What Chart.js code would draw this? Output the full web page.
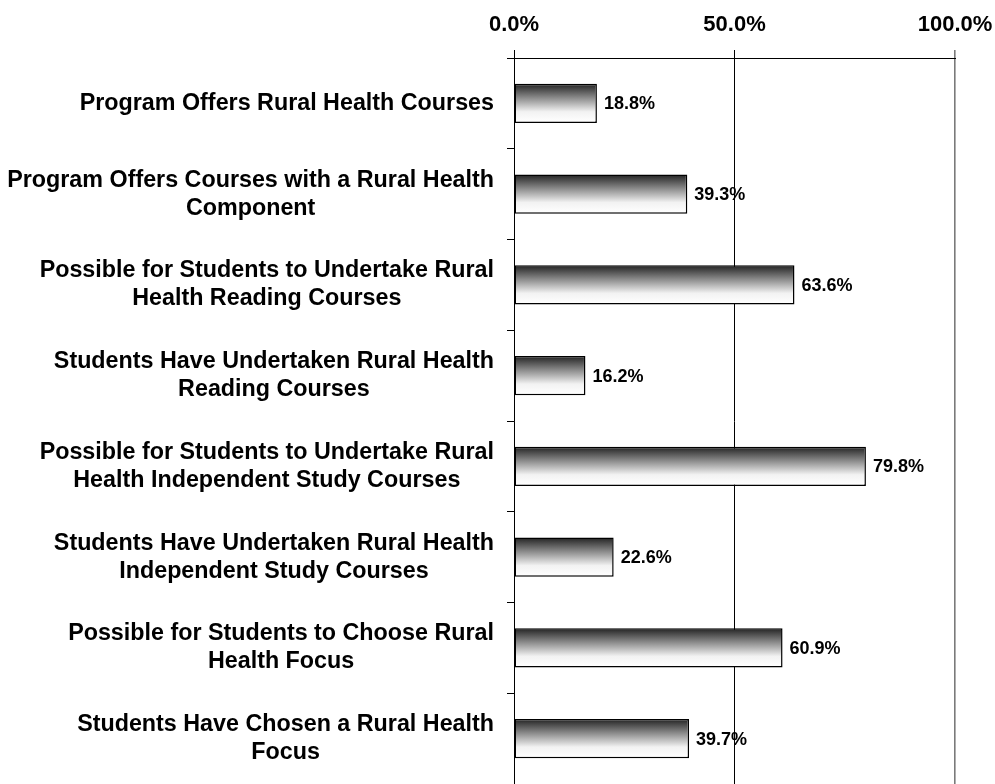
<!DOCTYPE html>
<html>
<head>
<meta charset="utf-8">
<script src="https://cdn.jsdelivr.net/npm/chart.js@4/dist/chart.umd.min.js"></script>
<style>
  html, body { margin: 0; padding: 0; background: #fff; }
  #wrap { width: 995px; height: 784px; position: relative; }
</style>
</head>
<body>
<div id="wrap"><canvas id="c"></canvas></div>
<script>
const categories = [
  ["Program Offers Rural Health Courses"],
  ["Program Offers Courses with a Rural Health", "Component"],
  ["Possible for Students to Undertake Rural", "Health Reading Courses"],
  ["Students Have Undertaken Rural Health", "Reading Courses"],
  ["Possible for Students to Undertake Rural", "Health Independent Study Courses"],
  ["Students Have Undertaken Rural Health", "Independent Study Courses"],
  ["Possible for Students to Choose Rural", "Health Focus"],
  ["Students Have Chosen a Rural Health", "Focus"]
];
const values = [18.8, 39.3, 63.6, 16.2, 79.8, 22.6, 60.9, 39.7];
const xTicks = [0, 50, 100];

const FONT = '"Liberation Sans", Arial, sans-serif';

function barGradient(ctx) {
  const chart = ctx.chart;
  const area = chart.chartArea;
  if (!area || ctx.type !== 'data') return '#888';
  const meta = chart.getDatasetMeta(ctx.datasetIndex);
  const el = meta.data[ctx.dataIndex];
  const ys = chart.scales.y;
  const yc = ys.getPixelForValue(ctx.dataIndex);
  const h = (el && el.height) ? el.height : 38;
  const g = chart.ctx.createLinearGradient(0, yc - h / 2, 0, yc + h / 2);
  g.addColorStop(0, '#262626');
  g.addColorStop(0.35, '#8a8a8a');
  g.addColorStop(0.72, '#f2f2f2');
  g.addColorStop(1, '#ffffff');
  return g;
}

const labelPlugin = {
  id: 'labels',
  afterDatasetsDraw(chart) {
    const c = chart.ctx;
    const meta = chart.getDatasetMeta(0);
    c.save();
    c.fillStyle = '#000';
    c.font = 'bold 18px ' + FONT;
    c.textAlign = 'left';
    c.textBaseline = 'middle';
    meta.data.forEach((bar, i) => {
      c.fillText(values[i].toFixed(1) + '%', bar.x + 7, bar.y + 1);
    });
    c.restore();
  },
  afterDraw(chart) {
    const c = chart.ctx;
    const ys = chart.scales.y;
    const right = chart.chartArea.left - 20;
    const lh = 28;
    c.save();
    c.fillStyle = '#000';
    c.font = 'bold 23.3px ' + FONT;
    c.textAlign = 'center';
    c.textBaseline = 'middle';
    categories.forEach((lines, i) => {
      const w = Math.max(...lines.map(l => c.measureText(l).width));
      const cx = right - w / 2;
      const yc = ys.getPixelForTick(i);
      const y0 = yc - (lines.length - 1) * lh / 2;
      lines.forEach((l, j) => c.fillText(l, cx, y0 + j * lh));
    });
    c.restore();
  }
};

new Chart(document.getElementById('c'), {
  type: 'bar',
  data: {
    labels: categories,
    datasets: [{
      data: values,
      backgroundColor: barGradient,
      borderColor: '#000',
      borderWidth: 1.5,
      borderSkipped: false,
      categoryPercentage: 1,
      barPercentage: 0.43
    }]
  },
  options: {
    indexAxis: 'y',
    responsive: true,
    maintainAspectRatio: false,
    animation: false,
    layout: { padding: { left: 507, top: 0, right: 40, bottom: 0 } },
    plugins: { legend: { display: false }, tooltip: { enabled: false } },
    scales: {
      x: {
        position: 'top',
        min: 0,
        max: 100,
        afterBuildTicks(scale) { scale.ticks = xTicks.map(v => ({ value: v })); },
        afterFit(scale) { scale.paddingLeft = 0; scale.paddingRight = 0; },
        ticks: {
          padding: 14,
          color: '#000',
          font: { family: FONT, size: 22, weight: 'bold', lineHeight: 1.0 },
          callback: v => v.toFixed(1) + '%'
        },
        grid: {
          color: ctx => (ctx.tick && ctx.tick.value === 100) ? '#7a7a7a' : '#000',
          lineWidth: ctx => (ctx.tick && ctx.tick.value === 100) ? 1.6 : 1,
          tickLength: 8,
          drawTicks: true
        },
        border: { display: true, color: '#000', width: 1 }
      },
      y: {
        ticks: { display: false },
        grid: {
          offset: true,
          drawOnChartArea: false,
          drawTicks: true,
          tickLength: 7,
          color: '#000'
        },
        border: { display: true, color: '#000', width: 1 }
      }
    }
  },
  plugins: [labelPlugin]
});
</script>
</body>
</html>
